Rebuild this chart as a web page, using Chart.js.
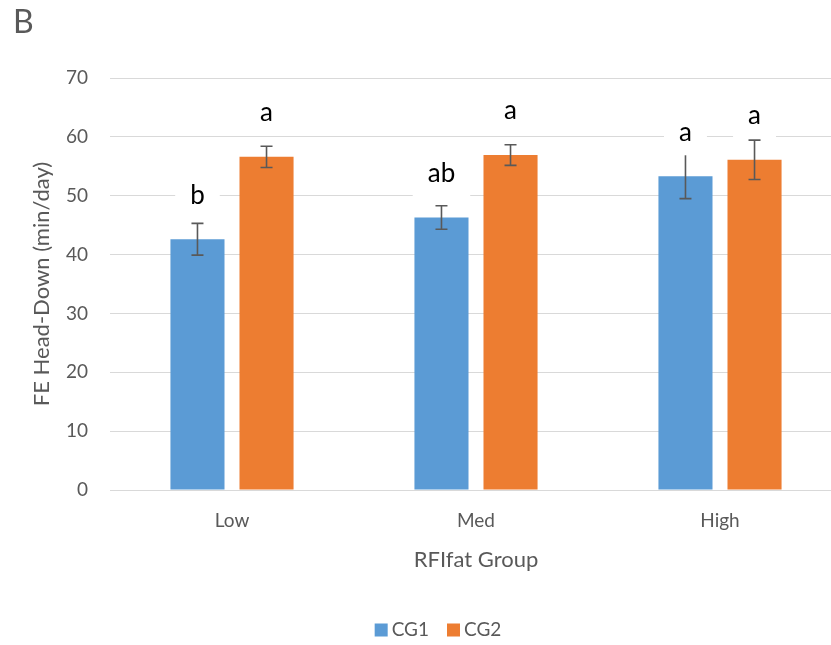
<!DOCTYPE html>
<html>
<head>
<meta charset="utf-8">
<script src="https://cdn.jsdelivr.net/npm/chart.js"></script>
<style>
  html, body { margin: 0; padding: 0; background: #fff; overflow: hidden; }
  #wrap { width: 831px; height: 645px; position: relative; overflow: hidden; }
</style>
</head>
<body>
<div id="wrap"><canvas id="myChart" width="843" height="645"></canvas></div>
<script>
// values
const panelTag = "B";
const groups = ["Low", "Med", "High"];
const seriesNames = ["CG1", "CG2"];
const seriesColors = ["#5B9BD5", "#ED7D31"];
const cg1 = [42.6, 46.3, 53.3];
const cg2 = [56.6, 56.9, 56.1];
const cg1Err = [2.7, 2.0, 3.8];
const cg2Err = [1.8, 1.75, 3.35];
const cg1Letters = ["b", "ab", "a"];
const cg2Letters = ["a", "a", "a"];
const yTicks = [0, 10, 20, 30, 40, 50, 60, 70];

const gray = "#595959";
const font = "Lato, 'Open Sans', sans-serif";

// error bars, significance letters, panel tag and legend
const extras = {
    id: "extras",
    afterDatasetsDraw(chart) {
        const ctx = chart.ctx;
        const y = chart.scales.y;
        const errs = [cg1Err, cg2Err];
        const letters = [cg1Letters, cg2Letters];
        ctx.save();
        chart.data.datasets.forEach((ds, di) => {
            const meta = chart.getDatasetMeta(di);
            meta.data.forEach((bar, i) => {
                const v = ds.data[i];
                const e = errs[di][i];
                const yt = y.getPixelForValue(v + e);
                const yb = y.getPixelForValue(v - e);
                ctx.strokeStyle = gray;
                ctx.lineWidth = 1.6;
                ctx.beginPath();
                ctx.moveTo(bar.x, yt); ctx.lineTo(bar.x, yb);
                ctx.moveTo(bar.x - 6, yt); ctx.lineTo(bar.x + 6, yt);
                ctx.moveTo(bar.x - 6, yb); ctx.lineTo(bar.x + 6, yb);
                ctx.stroke();

                // letter with a white box behind it
                const ly = bar.y - 44;
                ctx.font = "26px " + font;
                const w = ctx.measureText(letters[di][i]).width + 30;
                ctx.fillStyle = "#fff";
                ctx.fillRect(bar.x - w / 2, ly - 23, w, 46);
                ctx.fillStyle = "#000";
                ctx.textAlign = "center";
                ctx.textBaseline = "middle";
                ctx.fillText(letters[di][i], bar.x, ly);
            });
        });
        ctx.restore();
    },
    afterDraw(chart) {
        const ctx = chart.ctx;
        ctx.save();
        ctx.font = "32px " + font;
        ctx.fillStyle = gray;
        ctx.textAlign = "left";
        ctx.textBaseline = "middle";
        ctx.fillText(panelTag, 13, 23);

        // legend
        ctx.font = "19px " + font;
        const widths = seriesNames.map(n => 13 + 4 + ctx.measureText(n).width);
        const total = widths.reduce((a, b) => a + b, 0) + 18 * (widths.length - 1);
        let x = 438 - total / 2;
        const ly = 630;
        seriesNames.forEach((n, i) => {
            ctx.fillStyle = seriesColors[i];
            ctx.fillRect(x, ly - 6.5, 13, 13);
            ctx.fillStyle = gray;
            ctx.fillText(n, x + 17, ly);
            x += widths[i] + 18;
        });
        ctx.restore();
    }
};

const data = {
    labels: groups,
    datasets: seriesNames.map((n, i) => ({
        label: n,
        data: [cg1, cg2][i],
        backgroundColor: seriesColors[i]
    }))
};

const config = {
    type: "bar",
    data: data,
    options: {
        responsive: false,
        animation: false,
        layout: { padding: { top: 78, right: 1, left: 0, bottom: 0 } },
        datasets: { bar: { categoryPercentage: 0.566, barPercentage: 0.783 } },
        scales: {
            x: {
                grid: { display: false, drawTicks: false },
                border: { display: false },
                ticks: { color: gray, font: { family: font, size: 19 }, padding: 19 },
                title: {
                    display: true, text: "RFIfat Group", color: gray,
                    font: { family: font, size: 22 }, padding: { top: 0, bottom: 72 }
                },
                afterFit: (s) => { s.height = 155; }
            },
            y: {
                min: 0, max: 70,
                afterBuildTicks: (s) => { s.ticks = yTicks.map(v => ({ value: v })); },
                grid: { color: "#d9d9d9", lineWidth: 1, drawTicks: false },
                border: { display: false },
                ticks: { color: gray, font: { family: font, size: 19 }, padding: 22 },
                title: {
                    display: true, text: "FE Head-Down (min/day)", color: gray,
                    font: { family: font, size: 22 }, padding: { top: 29, bottom: 0 }
                },
                afterFit: (s) => { s.width = 110; }
            }
        },
        plugins: {
            legend: { display: false },
            tooltip: { enabled: false }
        }
    },
    plugins: [extras]
};

const myChart = new Chart(document.getElementById("myChart"), config);
</script>
</body>
</html>
